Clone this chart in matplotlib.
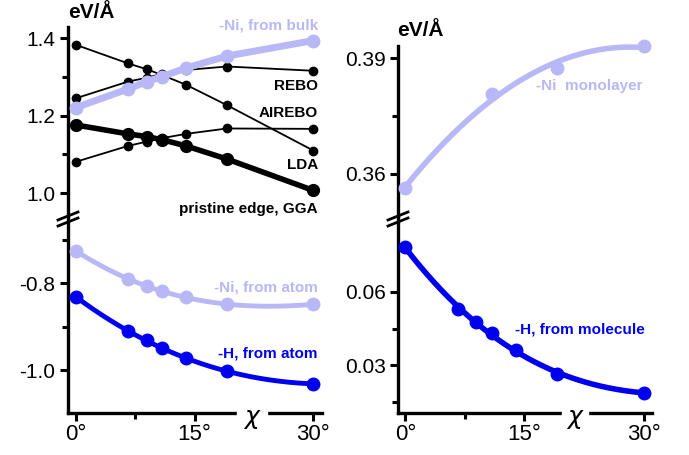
import numpy as np
import matplotlib.pyplot as plt
from matplotlib.lines import Line2D
from matplotlib.patches import Rectangle

plt.rcParams['font.family'] = ['Liberation Sans', 'DejaVu Sans']

# chiral angle of the edge, degrees
chi = [0, 6.59, 8.95, 10.89, 13.9, 19.1, 30]

# upper left: edge energies, eV/A
rebo = [1.245, 1.288, 1.298, 1.308, 1.318, 1.327, 1.316]
lda = [1.383, 1.335, 1.320, 1.305, 1.280, 1.227, 1.110]
airebo = [1.081, 1.122, 1.133, 1.142, 1.153, 1.167, 1.166]
gga = [1.176, 1.153, 1.146, 1.138, 1.122, 1.088, 1.007]
ni_bulk = [1.221, 1.269, 1.288, 1.301, 1.323, 1.354, 1.394]

# lower left
ni_atom = [-0.725, -0.790, -0.806, -0.818, -0.832, -0.848, -0.848]
h_atom = [-0.831, -0.910, -0.931, -0.949, -0.972, -1.002, -1.031]

# right panel
chi_mono = [0, 10.89, 19.1, 30]
ni_mono = [0.3563, 0.3807, 0.3876, 0.3932]
h_mol = [0.0782, 0.0528, 0.0477, 0.0430, 0.0361, 0.0266, 0.0188]

lav = '#b8b8f6'
blue = '#0000f0'

W, H = 689, 455
fig = plt.figure(figsize=(W / 100, H / 100), dpi=100)


def box(x0, y0, x1, y1):
    return [x0 / W, 1 - y1 / H, (x1 - x0) / W, (y1 - y0) / H]


def fig_xy(x, y):
    return x / W, 1 - y / H


axTL = fig.add_axes(box(68, 27, 322, 216))
axBL = fig.add_axes(box(68, 216, 322, 413))
axTR = fig.add_axes(box(398, 46, 652, 216))
axBR = fig.add_axes(box(398, 216, 652, 413))

for ax in (axTL, axBL, axTR, axBR):
    ax.spines['right'].set_visible(False)
    ax.spines['top'].set_visible(False)
    for s in ax.spines.values():
        s.set_linewidth(2.4)
    ax.tick_params(width=2.2, length=6, direction='out', labelsize=15, pad=3)
    ax.tick_params(which='minor', width=2.2, length=4, direction='out')
    ax.set_facecolor('none')

for ax in (axTL, axTR):
    ax.spines['bottom'].set_visible(False)
    ax.tick_params(axis='x', which='both', bottom=False, labelbottom=False)

axTL.set_xlim(-1.0, 31.1)
axBL.set_xlim(-1.0, 31.1)
axTR.set_xlim(-0.93, 31.06)
axBR.set_xlim(-0.93, 31.06)

axTL.set_ylim(0.941, 1.429)
axBL.set_ylim(-1.098, -0.645)
axTR.set_ylim(0.3491, 0.3932)
axBR.set_ylim(0.0105, 0.091)

axTL.set_yticks([1.0, 1.2, 1.4], ['1.0', '1.2', '1.4'])
axTL.set_yticks([1.1, 1.3], minor=True)
axBL.set_yticks([-1.0, -0.8], ['-1.0', '-0.8'])
axBL.set_yticks([-0.9, -0.7], minor=True)
axTR.set_yticks([0.36, 0.39], ['0.36', '0.39'])
axTR.set_yticks([0.375], minor=True)
axBR.set_yticks([0.03, 0.06], ['0.03', '0.06'])
axBR.set_yticks([0.015, 0.045], minor=True)

for ax in (axBL, axBR):
    ax.set_xticks([0, 15, 30], ['0°', '15°', '30°'])
    ax.set_xticks([7.5], minor=True)
    ax.tick_params(axis='x', labelsize=16, pad=2)

# upper left curves
for vals in (rebo, lda, airebo):
    axTL.plot(chi, vals, color='black', lw=1.3, marker='o', ms=6, clip_on=False, zorder=3)
axTL.plot(chi, gga, color='black', lw=4, marker='o', ms=8.5, clip_on=False, zorder=3)
axTL.plot(chi, ni_bulk, color=lav, lw=5, marker='o', ms=9, clip_on=False, zorder=4)

xs = np.linspace(0, 30, 200)


def fit_line(ax, x, y, deg, color, lw, ms):
    p = np.polyfit(x, y, deg)
    ax.plot(xs, np.polyval(p, xs), color=color, lw=lw, clip_on=False, zorder=3)
    ax.plot(x, y, 'o', color=color, ms=ms, clip_on=False, zorder=4)


fit_line(axBL, chi, ni_atom, 3, lav, 3.5, 9)
fit_line(axBL, chi, h_atom, 3, blue, 3.5, 9)
fit_line(axTR, chi_mono, ni_mono, 2, lav, 4, 9)
fit_line(axBR, chi, h_mol, 3, blue, 4, 9)

# labels
lab = dict(fontsize=11, fontweight='bold', ha='right', va='center')
fig.text(*fig_xy(318, 26), '-Ni, from bulk', color=lav, **lab)
fig.text(*fig_xy(318, 86), 'REBO', color='black', **lab)
fig.text(*fig_xy(318, 113), 'AIREBO', color='black', **lab)
fig.text(*fig_xy(318, 165), 'LDA', color='black', **lab)
fig.text(*fig_xy(318, 209), 'pristine edge, GGA', color='black', **lab)
fig.text(*fig_xy(318, 287), '-Ni, from atom', color=lav, **lab)
fig.text(*fig_xy(318, 353), '-H, from atom', color=blue, **lab)
fig.text(*fig_xy(643, 86), '-Ni  monolayer', color=lav, **lab)
fig.text(*fig_xy(645, 329), '-H, from molecule', color=blue, **lab)

fig.text(*fig_xy(91, 12), 'eV/Å', fontsize=15, fontweight='bold', ha='center', va='center')
fig.text(*fig_xy(420, 31), 'eV/Å', fontsize=15, fontweight='bold', ha='center', va='center')

# gaps in the x axis for the chi symbol
for x0, x1, xc in ((237, 267, 252), (562, 588, 575)):
    fig.add_artist(Rectangle(fig_xy(x0, 422), (x1 - x0) / W, 12 / H,
                             transform=fig.transFigure, color='white', zorder=5))
    fig.text(*fig_xy(xc, 419), r'$\chi$', fontsize=18,
             ha='center', va='center', zorder=6)

# axis break marks
for sx in (68, 398):
    for dy in (0, 6):
        x0, y0 = fig_xy(sx - 10, 220 + dy)
        x1, y1 = fig_xy(sx + 10, 212 + dy)
        fig.add_artist(Line2D([x0, x1], [y0, y1], color='black', lw=2, zorder=6))

fig.savefig('out.png', dpi=100)
